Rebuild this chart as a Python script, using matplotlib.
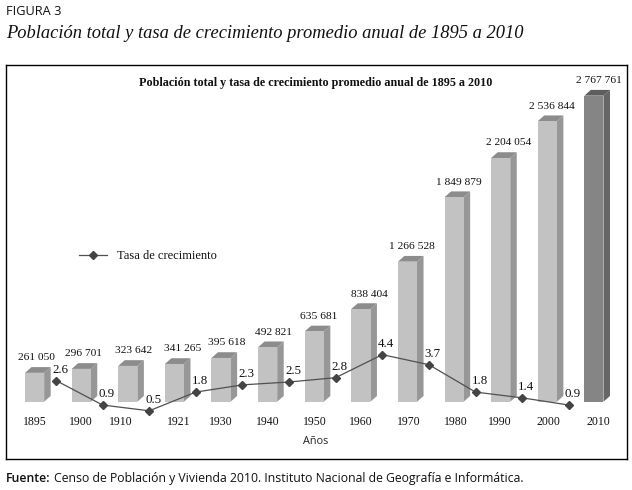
import matplotlib
matplotlib.use("Agg")
import matplotlib.pyplot as plt
from matplotlib.patches import Polygon

# Datos
years = ["1895", "1900", "1910", "1921", "1930", "1940", "1950", "1960", "1970", "1980", "1990", "2000", "2010"]
population = [261050, 296701, 323642, 341265, 395618, 492821, 635681, 838404, 1266528, 1849879, 2204054, 2536844, 2767761]
pop_labels = ["261 050", "296 701", "323 642", "341 265", "395 618", "492 821", "635 681", "838 404",
              "1 266 528", "1 849 879", "2 204 054", "2 536 844", "2 767 761"]
rate = [2.6, 0.9, 0.5, 1.8, 2.3, 2.5, 2.8, 4.4, 3.7, 1.8, 1.4, 0.9]

# ajustes finos de las etiquetas (pixeles)
label_dx = [1.5, 2, 6, 8.5, 6, 6, 4, 9, 4, 4.5, 8.5, 4.5, 5]
tick_dx = [0, 0, -7, 4.5, 0, 0.5, 1, 0, 1.5, 2, -1, 1.5, 4]

W, H = 632, 490
SERIF = "Liberation Serif"
SANS = "Open Sans"
px = 72 / 100  # puntos por pixel

fig = plt.figure(figsize=(W / 100, H / 100), dpi=100)
fig.patch.set_facecolor("white")

# marco de la grafica
left, right, top, bottom = 5.5, 627, 65, 459
ax = fig.add_axes([left / W, 1 - bottom / H, (right - left) / W, (bottom - top) / H])
ax.set_xlim(-0.624, 12.71)
ax.set_ylim(-518000, 3045000)
ax.set_xticks([])
ax.set_yticks([])
for s in ax.spines.values():
    s.set_linewidth(1.0)
    s.set_color("black")

# barras con efecto 3D
bar_w = 0.41
depth_x = 0.14
depth_y = 52000
for i, v in enumerate(population):
    if i == len(population) - 1:
        front, side, cap = "#858585", "#666666", "#5e5e5e"
    else:
        front, side, cap = "#c2c2c2", "#979797", "#8c8c8c"
    x0 = i - bar_w / 2
    x1 = i + bar_w / 2
    ax.add_patch(Polygon([(x1, 0), (x1 + depth_x, depth_y), (x1 + depth_x, v + depth_y), (x1, v)],
                         facecolor=side, edgecolor="none"))
    ax.add_patch(Polygon([(x0, v), (x0 + depth_x, v + depth_y), (x1 + depth_x, v + depth_y), (x1, v)],
                         facecolor=cap, edgecolor="none"))
    ax.bar(i, v, width=bar_w, color=front, linewidth=0)
    ax.annotate(pop_labels[i], (i, v), xytext=(label_dx[i] * px, 15 * px), textcoords="offset points",
                ha="center", va="center", fontsize=8.2, family=SERIF, color="#111111")
    ax.annotate(years[i], (i, 0), xytext=(tick_dx[i] * px, -20.5 * px), textcoords="offset points",
                ha="center", va="center", fontsize=8.5, family=SERIF, color="#111111")

# linea de tasa de crecimiento
ax2 = ax.twinx()
ax2.set_ylim(-2.847, 24.51)
ax2.set_yticks([])
for s in ax2.spines.values():
    s.set_visible(False)
line_x = [i + 0.46 for i in range(len(rate))]
ax2.plot(line_x, rate, color="#505050", linewidth=0.9, marker="D", markersize=3.8,
         markerfacecolor="#444444", markeredgecolor="#444444", label="Tasa de crecimiento")
for xp, r in zip(line_x, rate):
    ax2.annotate(f"{r}", (xp, r), xytext=(4 * px, 11 * px), textcoords="offset points",
                 ha="center", va="center", fontsize=9.3, family=SERIF, color="#111111")

ax2.legend(loc="center left", bbox_to_anchor=((68 - left) / (right - left), 1 - (256 - top) / (bottom - top)),
           frameon=False, handlelength=2.24, handletextpad=0.75,
           prop={"family": SERIF, "size": 9}, labelcolor="#111111")

# textos fuera de las barras
def put(x, y, s, **kw):
    fig.text(x / W, 1 - y / H, s, va="center", **kw)

put(316, 83, "Población total y tasa de crecimiento promedio anual de 1895 a 2010", ha="center",
    family=SERIF, fontsize=8.7, fontweight="bold", color="#111111")
put(316, 441.5, "Años", ha="center", family=SANS, fontsize=7.8, color="#222222")
put(6, 11.5, "FIGURA 3", ha="left", family=SANS, fontsize=9.2, color="#111111")
put(6, 34, "Población total y tasa de crecimiento promedio anual de 1895 a 2010", ha="left",
    family=SERIF, fontsize=13.3, style="italic", color="#111111")
put(6, 478, "Fuente:", ha="left", family=SANS, fontsize=8.8, fontweight="semibold", color="#111111")
put(54, 478, "Censo de Población y Vivienda 2010. Instituto Nacional de Geografía e Informática.", ha="left",
    family=SANS, fontsize=8.8, color="#111111")

fig.savefig("out.png", dpi=100)
